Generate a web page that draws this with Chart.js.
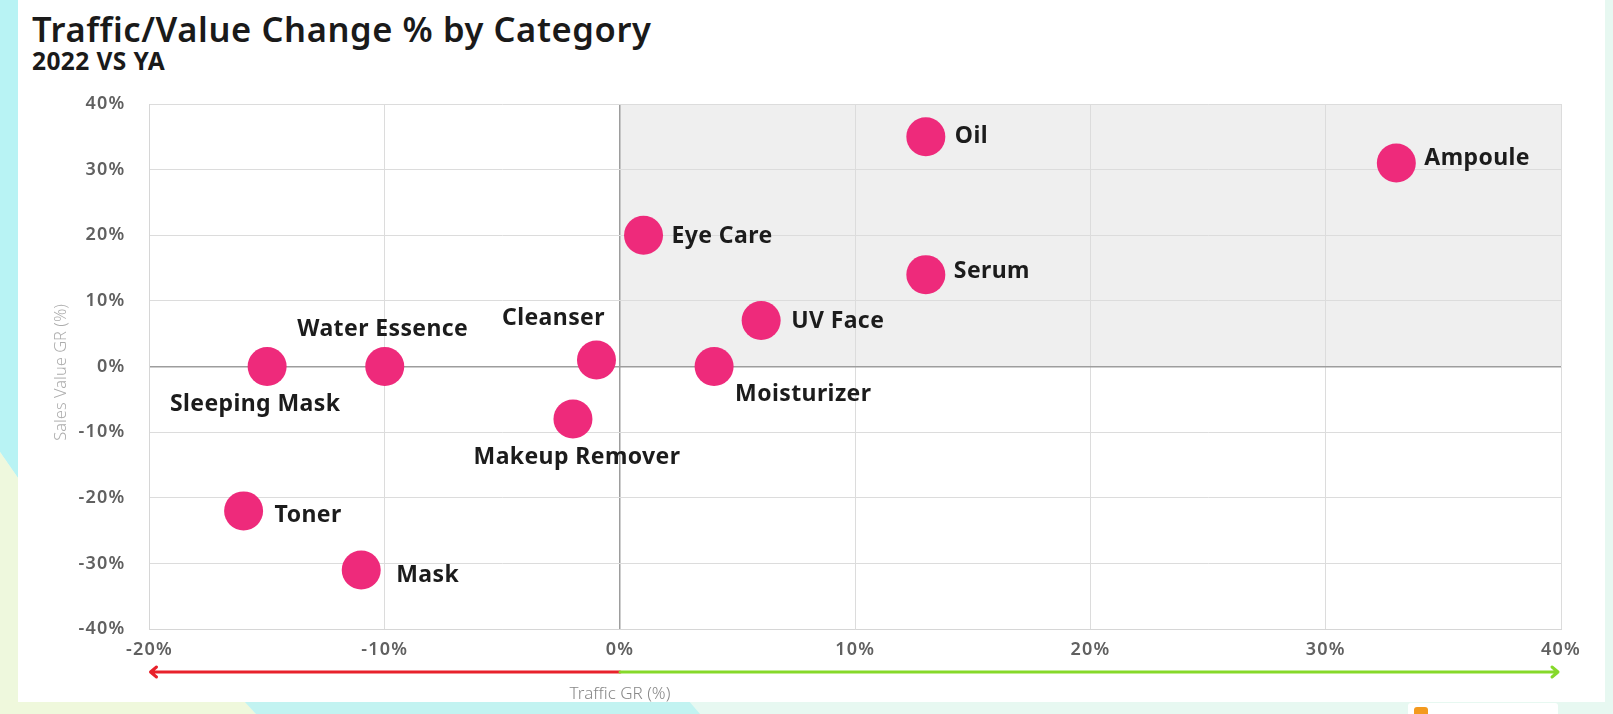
<!DOCTYPE html>
<html>
<head>
<meta charset="utf-8">
<script src="https://cdn.jsdelivr.net/npm/chart.js@4.4.1/dist/chart.umd.min.js"></script>
<style>
  html, body { margin: 0; padding: 0; }
  body { width: 1613px; height: 714px; position: relative; overflow: hidden; background: #e7f8f1; font-family: 'Noto Sans', sans-serif; }
  .bg { position: absolute; left: 0; top: 0; width: 1613px; height: 714px; }
  .bg-cyan { background: #b8f3f4; clip-path: polygon(0 0, 18px 0, 18px 478px, 0 452px); }
  .bg-yellow { background: #eef8dd; clip-path: polygon(0 452px, 18px 478px, 18px 714px, 0 714px); }
  .bg-yellow2 { background: #eff8dc; clip-path: polygon(0 700px, 243px 700px, 256px 714px, 0 714px); }
  .bg-cyan2 { background: #c2f3f1; clip-path: polygon(243px 700px, 688px 700px, 700px 714px, 256px 714px); }
  .card { position: absolute; left: 18px; top: 0; width: 1587px; height: 702px; background: #ffffff; }
  .title { position: absolute; left: 32px; top: 12px; font-size: 34.5px; font-weight: 600; color: #1a1a1a; line-height: 1; letter-spacing: 0.6px; white-space: nowrap; }
  .subtitle { position: absolute; left: 32px; top: 49px; font-size: 24.5px; font-weight: 700; color: #1a1a1a; line-height: 1; letter-spacing: 0.4px; white-space: nowrap; }
  .logo { position: absolute; left: 1408px; top: 703px; width: 150px; height: 14px; background: #ffffff; border-radius: 3px; }
  .logo i { position: absolute; left: 6px; top: 4px; width: 14px; height: 14px; background: #f39a1e; border-radius: 3px; }
  .wrap { position: absolute; left: 0; top: 0; width: 1613px; height: 714px; }
</style>
</head>
<body>
<div class="bg bg-cyan"></div>
<div class="bg bg-yellow"></div>
<div class="bg bg-yellow2"></div>
<div class="bg bg-cyan2"></div>
<div class="card"></div>
<div class="title">Traffic/Value Change % by Category</div>
<div class="subtitle">2022 VS YA</div>
<div class="logo"><i></i></div>
<div class="wrap"><canvas id="chart"></canvas></div>
<script>
// data
const categories = ['Oil', 'Ampoule', 'Eye Care', 'Serum', 'UV Face', 'Cleanser', 'Moisturizer',
  'Makeup Remover', 'Water Essence', 'Sleeping Mask', 'Toner', 'Mask'];
const trafficGR = [13, 33, 1, 13, 6, -1, 4, -2, -10, -15, -16, -11];
const salesValueGR = [35, 31, 20, 14, 7, 1, 0, -8, 0, 0, -22, -31];
const xTicks = [-20, -10, 0, 10, 20, 30, 40];
const yTicks = [-40, -30, -20, -10, 0, 10, 20, 30, 40];

const pink = '#ee2a7b';

// where each label sits next to its bubble
const labelPlace = {
  'Oil': { dx: 29, dy: 0, align: 'left' },
  'Ampoule': { dx: 28, dy: -5, align: 'left' },
  'Eye Care': { dx: 28, dy: 1, align: 'left' },
  'Serum': { dx: 28, dy: -3, align: 'left' },
  'UV Face': { dx: 30, dy: 1, align: 'left' },
  'Cleanser': { dx: -43, dy: -41, align: 'center' },
  'Moisturizer': { dx: 21, dy: 28, align: 'left' },
  'Makeup Remover': { dx: 4, dy: 38, align: 'center' },
  'Water Essence': { dx: -2, dy: -37, align: 'center' },
  'Sleeping Mask': { dx: -12, dy: 38, align: 'center' },
  'Toner': { dx: 31, dy: 5, align: 'left' },
  'Mask': { dx: 35, dy: 6, align: 'left' }
};

const quadrantPlugin = {
  id: 'quadrant',
  beforeDraw(chart) {
    const { ctx, chartArea, scales } = chart;
    const x0 = scales.x.getPixelForValue(0);
    const y0 = scales.y.getPixelForValue(0);
    ctx.save();
    ctx.fillStyle = '#efefef';
    ctx.fillRect(x0, chartArea.top, chartArea.right - x0, y0 - chartArea.top);
    ctx.restore();
    // a touch wider tick text, like the original
    ctx.letterSpacing = '1.2px';
  }
};

const extrasPlugin = {
  id: 'extras',
  afterDatasetsDraw(chart) {
    const { ctx } = chart;
    const meta = chart.getDatasetMeta(0);
    ctx.save();
    ctx.font = "700 23px 'Noto Sans', sans-serif";
    ctx.letterSpacing = '0.4px';
    ctx.fillStyle = '#1c1c1c';
    ctx.textBaseline = 'middle';
    meta.data.forEach((pt, i) => {
      const p = labelPlace[categories[i]];
      ctx.textAlign = p.align;
      ctx.fillText(categories[i], pt.x + p.dx, pt.y + p.dy);
    });
    ctx.restore();
  },
  afterDraw(chart) {
    const { ctx, chartArea, scales } = chart;
    const x0 = scales.x.getPixelForValue(0);
    const y0 = scales.y.getPixelForValue(0);
    const ay = 672;
    ctx.save();
    ctx.letterSpacing = '0px';
    ctx.lineWidth = 3;
    ctx.lineCap = 'round';
    ctx.lineJoin = 'round';
    // red arrow to the left
    ctx.strokeStyle = '#e8212b';
    ctx.beginPath();
    ctx.moveTo(x0, ay);
    ctx.lineTo(chartArea.left + 1, ay);
    ctx.moveTo(chartArea.left + 7, ay - 5);
    ctx.lineTo(chartArea.left + 1, ay);
    ctx.lineTo(chartArea.left + 7, ay + 5);
    ctx.stroke();
    // green arrow to the right
    ctx.strokeStyle = '#86d92a';
    ctx.beginPath();
    ctx.moveTo(x0, ay);
    ctx.lineTo(chartArea.right - 3, ay);
    ctx.moveTo(chartArea.right - 9, ay - 5);
    ctx.lineTo(chartArea.right - 3, ay);
    ctx.lineTo(chartArea.right - 9, ay + 5);
    ctx.stroke();

    // axis titles
    ctx.fillStyle = '#888888';
    ctx.font = "300 17px 'Noto Sans', sans-serif";
    ctx.textAlign = 'center';
    ctx.textBaseline = 'middle';
    ctx.fillText('Traffic GR (%)', x0, 694);
    ctx.fillStyle = '#acacac';
    ctx.font = "300 16.5px 'Noto Sans', sans-serif";
    ctx.translate(61, y0 + 6);
    ctx.rotate(-Math.PI / 2);
    ctx.fillText('Sales Value GR (%)', 0, 0);
    ctx.restore();
  }
};

Chart.defaults.font.family = "'Noto Sans', sans-serif";

new Chart(document.getElementById('chart'), {
  type: 'scatter',
  data: {
    labels: categories,
    datasets: [{
      data: categories.map((c, i) => ({ x: trafficGR[i], y: salesValueGR[i] })),
      backgroundColor: pink,
      borderWidth: 0,
      pointRadius: 19.5,
      pointHoverRadius: 19.5
    }]
  },
  options: {
    responsive: true,
    maintainAspectRatio: false,
    animation: false,
    layout: { padding: { left: 0, right: 52, top: 104, bottom: 45 } },
    plugins: {
      legend: { display: false },
      tooltip: { enabled: false }
    },
    scales: {
      x: {
        type: 'linear',
        min: xTicks[0],
        max: xTicks[xTicks.length - 1],
        afterBuildTicks(scale) { scale.ticks = xTicks.map(v => ({ value: v })); },
        afterFit(scale) { scale.height = 40; },
        grid: {
          drawTicks: false,
          color: ctx => ctx.tick && ctx.tick.value === 0 ? '#9d9d9d' : '#dcdcdc',
          lineWidth: ctx => ctx.tick && ctx.tick.value === 0 ? 1.5 : 1
        },
        border: { color: '#d6d6d6' },
        ticks: {
          padding: 10,
          color: '#606060',
          font: { size: 18, weight: '600' },
          maxRotation: 0,
          callback: v => v + '%'
        }
      },
      y: {
        type: 'linear',
        min: yTicks[0],
        max: yTicks[yTicks.length - 1],
        afterBuildTicks(scale) { scale.ticks = yTicks.map(v => ({ value: v })); },
        afterFit(scale) { scale.width = 149.5; },
        grid: {
          drawTicks: false,
          color: ctx => ctx.tick && ctx.tick.value === 0 ? '#9d9d9d' : '#dcdcdc',
          lineWidth: ctx => ctx.tick && ctx.tick.value === 0 ? 1.5 : 1
        },
        border: { color: '#d6d6d6' },
        ticks: {
          padding: 24,
          color: '#606060',
          font: { size: 18, weight: '600' },
          callback: v => v + '%'
        }
      }
    }
  },
  plugins: [quadrantPlugin, extrasPlugin]
});
</script>
</body>
</html>
